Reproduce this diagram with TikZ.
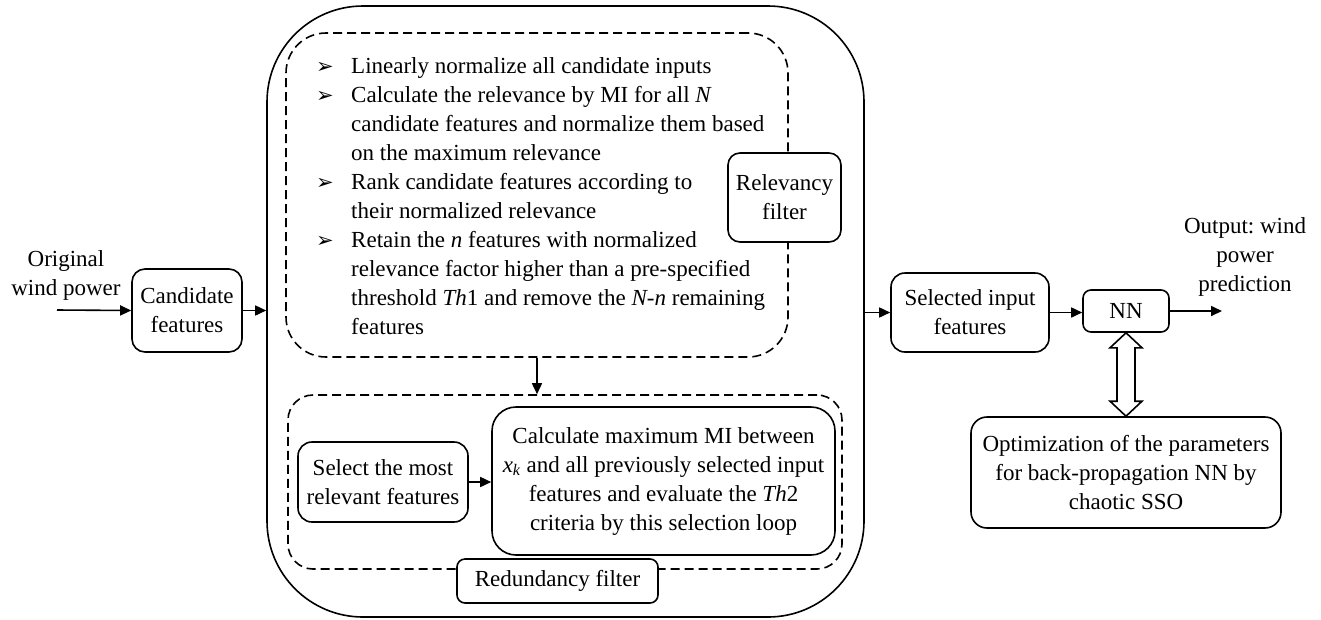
\documentclass[tikz,border=0pt]{standalone}
\usepackage{fontspec}
\setmainfont{Liberation Serif}
\newfontfamily\dejavu{DejaVu Sans}
\usetikzlibrary{arrows.meta,calc}
\newcommand\bul{\makebox[35pt][l]{\raisebox{0pt}{\dejavu\fontsize{21}{21}\selectfont ➢}}}
\newcommand\ind{\hspace*{35pt}}
\frenchspacing
\begin{document}
\begin{tikzpicture}[x=1pt,y=-1pt,
  every node/.style={font=\fontsize{23}{29}\selectfont\frenchspacing},
  box/.style={draw, line width=1.6pt, rounded corners=10pt, align=center, inner sep=0pt, fill=white},
  dbox/.style={draw, line width=1.6pt, dash pattern=on 9pt off 5pt, inner sep=0pt},
  arr/.style={line width=1.6pt, -{Triangle[length=11pt,width=10pt]}},
  plain/.style={align=center, inner sep=0pt}]
\useasboundingbox (0,0) rectangle (1321,619);
% containers
\node[draw, line width=1.6pt, rounded corners=96pt, minimum width=597pt, minimum height=611pt, inner sep=0pt] (outer) at (565.5,311.5) {};
\node[dbox, rounded corners=40pt, minimum width=502pt, minimum height=324pt] (relbox) at (537,195) {};
\node[dbox, rounded corners=25pt, minimum width=554pt, minimum height=174pt] (redbox) at (565,482) {};
% list text
\node[anchor=north west, align=left, inner sep=0pt] (list) at (316,57.5) {%
\bul Linearly normalize all candidate inputs\\
\bul Calculate the relevance by MI for all \textit{N}\\
\ind candidate features and normalize them based\\
\ind on the maximum relevance\\
\bul Rank candidate features according to\\
\ind their normalized relevance\\
\bul Retain the \textit{n} features with normalized\\
\ind relevance factor higher than a pre-specified\\
\ind threshold \textit{Th}1 and remove the \textit{N-n} remaining\\
\ind features};
% filter labels
\node[box, rounded corners=12pt, minimum width=113pt, minimum height=89pt] (relf) at (784.5,197.5) {Relevancy\\filter};
\node[box, rounded corners=8pt, minimum width=201pt, minimum height=44pt] (redf) at (557.5,581) {Redundancy filter};
% inner boxes
\node[box, rounded corners=14pt, minimum width=170pt, minimum height=80pt] (selc) at (383,482) {Select the most\\relevant features};
\node[box, rounded corners=24pt, minimum width=343pt, minimum height=148pt] (calc) at (663.5,481) {Calculate maximum MI between\\\textit{x}\textsubscript{\textit{k}} and all previously selected input\\features and evaluate the \textit{Th}2\\criteria by this selection loop};
% left
\node[plain] (orig) at (66,275) {Original\\wind power};
\coordinate (in) at (57,310);
\node[box, rounded corners=13pt, minimum width=110pt, minimum height=83pt] (cand) at (187,310.5) {Candidate\\features};
% right
\node[box, rounded corners=14pt, minimum width=158pt, minimum height=79pt] (sel) at (970,312.5) {Selected input\\features};
\node[box, rounded corners=8pt, minimum width=86pt, minimum height=42pt] (NN) at (1126,311) {NN};
\coordinate (out) at (1222,311);
\node[plain] (outl) at (1245,257) {Output: wind\\power\\prediction};
\node[box, rounded corners=16pt, minimum width=310pt, minimum height=111pt] (opt) at (1126,472.5) {Optimization of the parameters\\for back-propagation NN by\\chaotic SSO};
% connectors
\draw[arr] (in) -- (cand.west);
\draw[arr] (cand.east) -- (cand.east -| outer.west);
\draw[arr] (relbox.south) -- (relbox.south |- redbox.north);
\draw[arr] (selc.east) -- (selc.east -| calc.west);
\draw[arr] (outer.east |- sel.west) -- (sel.west);
\draw[arr] (sel.east) -- (sel.east -| NN.west);
\draw[arr] (NN.east) -- (out);
\draw[line width=1.6pt, line join=miter, fill=white] (NN.south) -- ++(16,15) -- ++(-7,0) -- ($(opt.north)+(9,-15)$) -- ++(7,0) -- (opt.north) -- ++(-16,-15) -- ++(7,0) -- ($(NN.south)+(-9,15)$) -- ++(-7,0) -- cycle;
\end{tikzpicture}
\end{document}
